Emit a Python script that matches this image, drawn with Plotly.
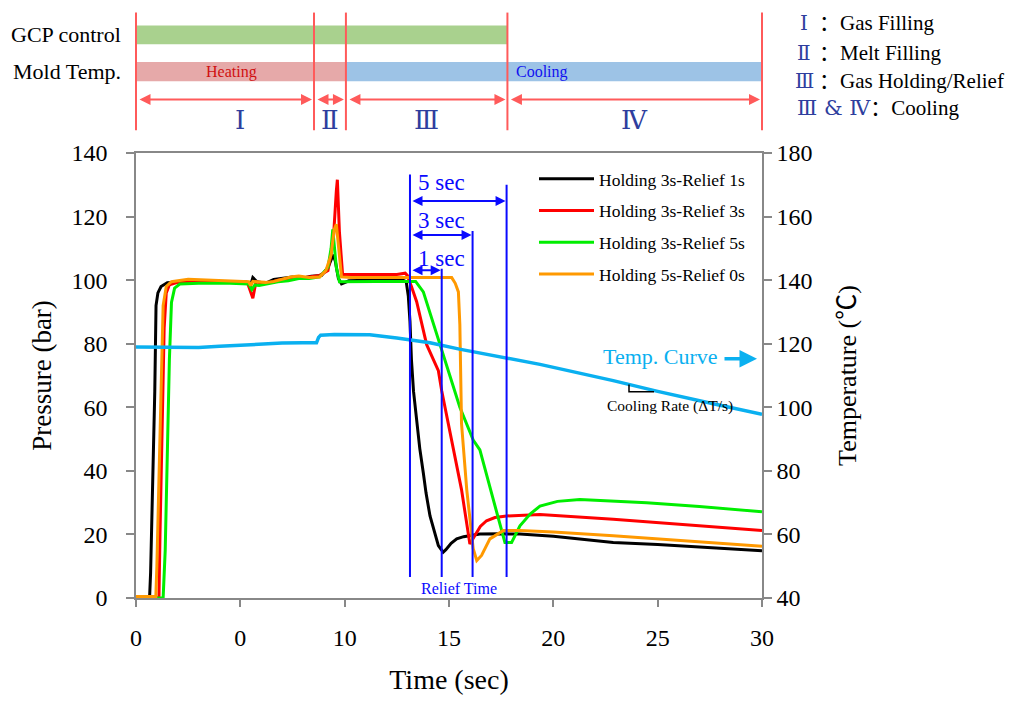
import plotly.graph_objects as go

# ---------------- data ----------------
t_black = [0, 0.65, 0.7, 0.8, 0.9, 0.96, 1.05, 1.2, 1.5, 2.5, 4.0, 5.3, 5.5, 5.6, 5.8, 6.2, 6.6, 7.0, 7.5,
           7.9, 8.4, 8.9, 9.2, 9.45, 9.55, 9.7, 9.85, 10.2, 11.0, 12.0, 12.8, 12.95, 13.05, 13.13, 13.2, 13.3,
           13.45, 13.6, 13.77, 13.9, 14.09, 14.3, 14.49, 14.72, 14.85, 15.1, 15.37, 15.7, 16.0, 16.48, 17.5,
           18.4, 20.0, 22.87, 25.0, 27.5, 30.0]
p_black = [0, 0, 8, 35, 65, 92, 96, 98, 99.2, 99.6, 99.6, 99.4, 98.5, 100.8, 99.5, 99, 100.2, 100.5, 101,
           100.5, 101.2, 101.5, 104, 108, 106, 100.5, 98.8, 99.8, 100, 100, 100, 99.5, 95, 87, 75, 65,
           55, 47, 39.3, 33, 25.8, 20.5, 16.5, 14.4, 15.2, 17.2, 18.6, 19.3, 19.7, 20.1, 20.2,
           20.1, 19.4, 17.5, 16.8, 15.9, 14.9]

t_red = [0, 1.1, 1.15, 1.25, 1.35, 1.45, 1.6, 2.0, 3.0, 4.5, 5.35, 5.6, 5.65, 5.75, 5.9, 6.3, 6.8, 7.3, 7.8,
         8.3, 8.8, 9.2, 9.45, 9.6, 9.65, 9.75, 9.9, 10.3, 11.5, 12.5, 12.9, 13.0, 13.2, 13.45, 13.93, 14.49,
         14.65, 15.13, 15.6, 16.0, 16.24, 16.5, 16.8, 17.2, 17.76, 19.36, 22.87, 26.0, 30.0]
p_red = [0, 0, 20, 55, 85, 96, 98.5, 99.3, 99.5, 99.3, 99, 94.3, 96, 99.5, 99.3, 99, 100, 100.5, 100.5,
         101, 101.5, 103, 112, 128, 131.6, 115, 101.8, 101.8, 101.8, 101.8, 102.2, 101.5, 98, 93.2, 79.7, 71.5,
         65.2, 49.7, 34.1, 17.0, 19.6, 22.5, 24.3, 25.3, 25.8, 26.3, 24.8, 23.2, 21.2]

t_green = [0, 1.3, 1.4, 1.5, 1.6, 1.7, 1.85, 2.1, 3.0, 4.5, 5.4, 5.55, 5.7, 5.9, 6.3, 6.8, 7.3, 7.8, 8.3,
           8.8, 9.2, 9.35, 9.43, 9.6, 9.75, 10.3, 11.5, 12.5, 13.4, 13.77, 14.57, 15.52, 16.16, 16.48,
           17.12, 17.68, 18.0, 18.4, 18.9, 19.36, 20.2, 21.27, 24.47, 27.0, 30.0]
p_green = [0, 0, 15, 45, 75, 93, 97.5, 98.8, 99, 99, 98.8, 97, 98.5, 98.3, 98.8, 99.5, 99.8, 100.5, 100.5,
           101, 104, 110, 116, 104, 99.5, 99.6, 99.6, 99.6, 99.6, 96.3, 79.7, 60, 49.7, 46.6,
           31, 17.5, 17.5, 22.7, 26.5, 28.9, 30.4, 31, 30, 28.8, 27.1]

t_orange = [0, 0.95, 1.0, 1.1, 1.2, 1.3, 1.45, 1.7, 2.5, 4.0, 5.4, 5.5, 5.6, 5.8, 6.2, 6.6, 7.0, 7.4, 7.8,
            8.3, 8.8, 9.1, 9.35, 9.5, 9.6, 9.7, 9.85, 10.3, 11.5, 12.5, 13.5, 14.5, 15.13, 15.3, 15.45,
            15.52, 15.6, 15.85, 16.16, 16.33, 16.56, 16.96, 17.6, 18.4, 20.0, 22.87, 26.0, 30.0]
p_orange = [0.5, 0.5, 10, 40, 70, 92, 98, 99.5, 100.3, 100, 99.5, 98.3, 99.6, 99.5, 99.3, 99.6, 100.2, 101,
            101.3, 100.8, 101, 103, 108, 116, 117.6, 110, 101, 100.8, 100.8, 100.8, 100.8, 100.8, 100.8, 99,
            96.3, 86, 54.9, 34.1, 15.5, 11.8, 13.4, 18.6, 21.2, 21.2, 20.8, 19.6, 18.1, 16.3]

t_temp = [0, 1, 2, 3, 4, 5, 6, 7, 8, 8.65, 8.75, 8.85, 9.5, 10.5, 11.2, 12.5, 14.09, 15.5, 17.76, 19.36,
          22.87, 25.0, 27.66, 30.0]
temp = [119, 118.9, 118.7, 118.8, 119.2, 119.6, 120, 120.2, 120.3, 120.3, 122, 122.7, 122.9, 122.9, 122.8,
        121.8, 120.3, 118.3, 115.6, 113.5, 108.4, 105, 101.1, 97.8]

series_names = ["Holding 3s-Relief 1s", "Holding 3s-Relief 3s", "Holding 3s-Relief 5s", "Holding 5s-Relief 0s"]
series_colors = ["#000000", "#FF0000", "#00EE00", "#FF9900"]

x_ticks = [0, 5, 10, 15, 20, 25, 30]
x_ticktext = ["0", "0", "10", "15", "20", "25", "30"]
p_ticks = [0, 20, 40, 60, 80, 100, 120, 140]
T_ticks = [40, 60, 80, 100, 120, 140, 160, 180]

phase_bounds = [0, 8.53, 10.06, 17.8, 30]
phase_labels = ["Ⅰ", "Ⅱ", "Ⅲ", "Ⅳ"]
phase_label_t = [4.98, 9.3, 13.9, 23.9]
gcp_end = 17.8
heat_end = 10.06

relief_t0 = 13.13
relief_ends = [14.65, 16.13, 17.76]
relief_labels = ["1 sec", "3 sec", "5 sec"]
relief_tops = [103.6, 115.5, 130.0]
relief_arrow_y = [103.1, 114.2, 124.9]
relief_label_y = [106.7, 118.7, 130.6]

legend_rows = [("Ⅰ", "：Gas Filling"), ("Ⅱ", "：Melt Filling"), ("Ⅲ", "：Gas Holding/Relief")]
legend_row4 = ("Ⅲ &amp; Ⅳ", "：Cooling")

# ---------------- layout geometry ----------------
W, H = 1025, 702
ML, MR, MT, MB = 136, 263, 153, 99
PW, PH = W - ML - MR, H - MT - MB
X_RANGE = [0, 30]


def px2x(px):
    return (px - ML) / PW


def py2y(py):
    return (H - MB - py) / PH


def t2paper(t):
    return (t - X_RANGE[0]) / (X_RANGE[1] - X_RANGE[0])


SERIF = "Liberation Serif, Times New Roman, Noto Sans CJK SC, serif"
ROMAN = "DejaVu Serif, Noto Sans CJK SC, serif"
BLUE = "#0A0AFF"
DARKBLUE = "#2E3E9E"
RED_LINE = "#FF5A5A"
CYAN = "#0AB0F0"


def label(px, py, text, size, color, xanchor="center", family=SERIF):
    return dict(xref="paper", yref="paper", x=px2x(px), y=py2y(py), text=text, showarrow=False,
                xanchor=xanchor, yanchor="middle", font=dict(family=family, size=size, color=color))


fig = go.Figure()

for t, p, n, c in zip([t_black, t_red, t_green, t_orange], [p_black, p_red, p_green, p_orange],
                      series_names, series_colors):
    fig.add_trace(go.Scatter(x=t, y=p, mode="lines", name=n, legendgroup=n,
                             line=dict(color=c, width=3)))

fig.add_trace(go.Scatter(x=t_temp, y=temp, mode="lines", name="Temp. Curve", yaxis="y2",
                         showlegend=False, line=dict(color=CYAN, width=3.5)))

shapes = []
annotations = []

# ---- top timeline ----
shapes.append(dict(type="rect", xref="paper", yref="paper", x0=t2paper(0), x1=t2paper(gcp_end),
                   y0=py2y(43), y1=py2y(24), fillcolor="#A9D18E", line=dict(width=0), layer="below"))
shapes.append(dict(type="rect", xref="paper", yref="paper", x0=t2paper(0), x1=t2paper(heat_end),
                   y0=py2y(80.5), y1=py2y(61), fillcolor="#E6A9A9", line=dict(width=0), layer="below"))
shapes.append(dict(type="rect", xref="paper", yref="paper", x0=t2paper(heat_end), x1=t2paper(30),
                   y0=py2y(80.5), y1=py2y(61), fillcolor="#9DC3E6", line=dict(width=0), layer="below"))
for b in phase_bounds:
    shapes.append(dict(type="line", xref="paper", yref="paper", x0=t2paper(b), x1=t2paper(b),
                       y0=py2y(130), y1=py2y(11), line=dict(color=RED_LINE, width=2)))
for i in range(4):
    a, b = phase_bounds[i], phase_bounds[i + 1]
    length_px = (b - a) * PW / (X_RANGE[1] - X_RANGE[0])
    annotations.append(dict(xref="paper", yref="paper", x=t2paper(b) - 2 / PW, y=py2y(99),
                            ax=-(length_px - 4), ay=0, axref="pixel", ayref="pixel", text="",
                            showarrow=True, arrowhead=2, arrowside="end+start", arrowsize=1.1,
                            arrowwidth=2, arrowcolor=RED_LINE, standoff=0, startstandoff=0))
    annotations.append(dict(xref="paper", yref="paper", x=t2paper(phase_label_t[i]), y=py2y(120),
                            xanchor="center", yanchor="middle",
                            text=phase_labels[i], showarrow=False,
                            font=dict(family=ROMAN, size=26, color=DARKBLUE)))

annotations.append(label(123, 33, "GCP control", 22, "black", xanchor="right"))
annotations.append(label(123, 71, "Mold Temp.", 22, "black", xanchor="right"))
annotations.append(label(231, 71, "Heating", 16, "#D01010"))
annotations.append(label(514, 71, "Cooling", 16, "#1010F0", xanchor="left"))

# ---- phase legend (top right) ----
row_py = [22, 52, 80]
for (r, txt), py in zip(legend_rows, row_py):
    annotations.append(label(804, py, r, 20, DARKBLUE, family=ROMAN))
    annotations.append(label(817, py, txt, 21, "black", xanchor="left"))
annotations.append(label(795, 107, "<span style='color:%s;font-family:DejaVu Serif'>%s</span>%s"
                         % (DARKBLUE, legend_row4[0], legend_row4[1]), 21, "black", xanchor="left"))

# ---- relief time markers ----
for t, top in zip([relief_t0] + relief_ends, [133.2] + relief_tops):
    shapes.append(dict(type="line", xref="x", yref="y", x0=t, x1=t, y0=6.6, y1=top,
                       line=dict(color=BLUE, width=2)))
for te, ya, yl, lab in zip(relief_ends, relief_arrow_y, relief_label_y, relief_labels):
    annotations.append(dict(xref="x", yref="y", x=te, y=ya, ax=relief_t0, ay=ya, axref="x", ayref="y",
                            text="", showarrow=True, arrowhead=2, arrowside="end+start", arrowsize=1,
                            arrowwidth=2, arrowcolor=BLUE, standoff=1, startstandoff=1))
    annotations.append(dict(xref="x", yref="y", x=14.62, y=yl, text=lab, showarrow=False,
                            xanchor="center", yanchor="middle",
                            font=dict(family=SERIF, size=23, color=BLUE)))
annotations.append(dict(xref="x", yref="y", x=15.5, y=3.0, text="Relief Time", showarrow=False,
                        xanchor="center", yanchor="middle",
                        font=dict(family=SERIF, size=16, color=BLUE)))

# ---- temperature curve annotation ----
annotations.append(label(660, 359, "Temp. Curve", 22, CYAN))
annotations.append(dict(xref="paper", yref="paper", x=px2x(757), y=py2y(361), ax=-34, ay=0,
                        text="", showarrow=True, arrowhead=2, arrowsize=1, arrowwidth=3.5,
                        arrowcolor=CYAN, standoff=0))
annotations.append(label(670, 409, "Cooling Rate (ΔT/s)", 15.5, "black"))
shapes.append(dict(type="path", xref="paper", yref="paper",
                   path="M %f %f L %f %f L %f %f" % (px2x(629), py2y(387), px2x(629), py2y(394.5),
                                                     px2x(654), py2y(394.5)),
                   line=dict(color="black", width=1.5)))

AX = dict(showgrid=False, zeroline=False, showline=True, linecolor="#888888", linewidth=1.5,
          ticks="outside", tickcolor="#888888", tickwidth=1.5,
          tickfont=dict(family=SERIF, size=24, color="black"))

fig.update_layout(
    width=W, height=H,
    margin=dict(l=ML, r=MR, t=MT, b=MB, pad=0),
    paper_bgcolor="white", plot_bgcolor="white",
    shapes=shapes, annotations=annotations,
    xaxis=dict(range=X_RANGE, tickvals=x_ticks, ticktext=x_ticktext, ticklen=7, mirror=True,
               ticklabelstandoff=10,
               title=dict(text="Time (sec)", font=dict(family=SERIF, size=28, color="black"), standoff=20),
               **AX),
    yaxis=dict(range=[0, 140], tickvals=p_ticks, ticklen=8, ticklabelstandoff=14,
               title=dict(text="Pressure (bar)", font=dict(family=SERIF, size=27, color="black"), standoff=12),
               **AX),
    yaxis2=dict(range=[40, 180], tickvals=T_ticks, ticklen=8, overlaying="y", side="right",
                title=dict(text="Temperature (℃)", font=dict(family=SERIF, size=26, color="black"), standoff=26),
                **AX),
    showlegend=True,
    legend=dict(x=px2x(534), y=py2y(161), xanchor="left", yanchor="top", bgcolor="rgba(0,0,0,0)",
                font=dict(family=SERIF, size=17.5, color="black"), itemwidth=55, tracegroupgap=6,
                traceorder="grouped"),
)

fig.write_html("out.html", include_plotlyjs=True, config={"displayModeBar": False},
               post_script="document.body.style.margin='0';document.body.style.overflow='hidden';")
